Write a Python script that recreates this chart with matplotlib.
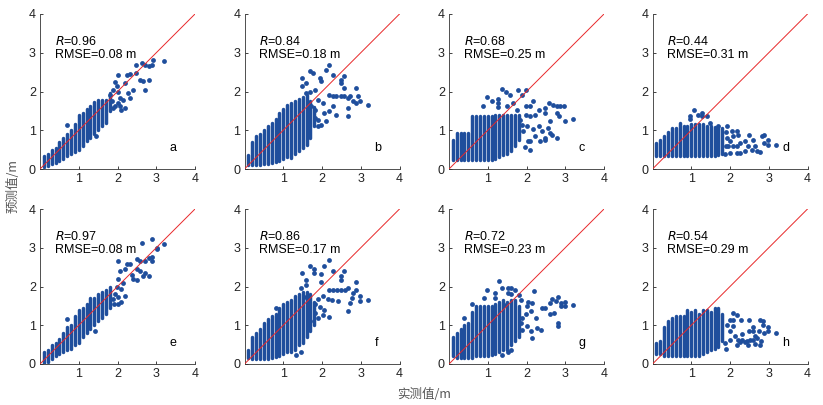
import numpy as np
import matplotlib
matplotlib.use("Agg")
import matplotlib.pyplot as plt

plt.rcParams['font.family'] = ['Liberation Sans', 'Noto Sans CJK SC', 'DejaVu Sans']

# observed values are binned every 0.1 m; dense columns given as (low, high) predicted
col_x = [0.1, 0.2, 0.3, 0.4, 0.5, 0.6, 0.7, 0.8, 0.9, 1.0,
         1.1, 1.2, 1.3, 1.4, 1.5, 1.6, 1.7, 1.8]

a_lo = [0.05, 0.07, 0.12, 0.15, 0.2, 0.25, 0.33, 0.38, 0.45, 0.48, 0.6, 0.72, 0.8, 0.9, 1.0, 1.1, 1.2, 1.5]
a_hi = [0.33, 0.4, 0.5, 0.55, 0.7, 0.8, 0.9, 1.0, 1.15, 1.4, 1.45, 1.55, 1.62, 1.72, 1.78, 1.78, 1.78, 1.95]
a_pts = [(0.7, 1.13), (1.45, 0.86), (1.81, 1.92), (1.85, 1.75), (1.94, 2.24), (1.94, 1.62), (2.02, 2.43),
         (2.02, 2.0), (2.06, 1.62), (2.06, 1.83), (2.15, 1.79), (2.19, 2.22), (2.19, 1.57), (2.24, 2.43),
         (2.28, 1.96), (2.32, 2.46), (2.32, 1.83), (2.41, 2.05), (2.49, 2.48), (2.49, 2.69), (2.58, 2.3),
         (2.62, 2.74), (2.67, 2.26), (2.71, 2.69), (2.71, 2.05), (2.8, 2.65), (2.82, 2.3), (2.88, 2.69),
         (2.92, 2.82), (3.2, 2.78), (1.89, 2.05), (2.0, 1.7), (1.99, 2.13), (1.89, 1.57), (2.1, 1.53)]

b_lo = [0.1, 0.1, 0.1, 0.1, 0.12, 0.12, 0.15, 0.18, 0.2, 0.25, 0.3, 0.28, 0.4, 0.46, 0.55, 0.63, 0.8, 1.1]
b_hi = [0.35, 0.7, 0.85, 0.9, 1.0, 1.1, 1.2, 1.3, 1.45, 1.55, 1.65, 1.7, 1.75, 1.8, 1.85, 1.9, 1.75, 1.6]
b_pts = [(1.48, 2.35), (1.68, 2.52), (1.78, 2.49), (1.94, 2.35), (1.98, 2.26), (2.11, 2.55), (2.17, 2.69),
         (2.28, 2.43), (2.48, 2.3), (2.48, 2.22), (2.58, 2.39), (2.58, 2.09), (2.17, 1.92), (2.28, 1.88),
         (2.37, 1.88), (2.48, 1.88), (2.58, 1.88), (2.67, 1.83), (2.71, 1.88), (2.88, 2.09), (2.92, 1.88),
         (2.8, 1.75), (2.97, 1.75), (3.18, 1.66), (2.88, 1.7), (2.67, 1.57), (2.67, 1.36), (2.37, 1.4),
         (2.28, 1.62), (2.19, 1.49), (2.06, 1.45), (2.11, 1.23), (1.98, 1.14), (1.89, 1.1), (1.89, 1.27),
         (1.81, 1.32), (1.81, 1.53), (1.72, 1.62), (1.89, 1.79), (2.02, 1.7), (1.81, 2.05), (1.68, 2.0),
         (1.59, 1.96), (1.49, 2.15), (1.59, 2.22)]

c_lo = [0.22, 0.22, 0.22, 0.22, 0.22, 0.22, 0.22, 0.22, 0.22, 0.22, 0.22, 0.25, 0.3, 0.35, 0.4, 0.46, 0.6, 0.75]
c_hi = [0.75, 0.92, 0.93, 0.93, 0.93, 1.36, 1.38, 1.38, 1.38, 1.38, 1.38, 1.4, 1.4, 1.4, 1.4, 1.4, 1.4, 1.4]
c_pts = [(1.36, 2.06), (1.47, 2.0), (1.57, 1.92), (1.77, 2.03), (1.99, 2.03), (1.88, 1.92), (0.97, 1.86),
         (1.27, 1.81), (1.27, 1.7), (1.27, 1.6), (1.1, 1.75), (0.89, 1.62), (1.66, 1.7), (1.49, 1.62),
         (1.75, 1.53), (1.99, 1.62), (2.09, 1.62), (2.18, 1.75), (1.99, 1.4), (2.09, 1.36), (2.22, 1.4),
         (2.31, 1.53), (2.48, 1.57), (2.48, 1.45), (2.58, 1.7), (2.69, 1.66), (2.78, 1.62), (2.86, 1.62),
         (2.97, 1.62), (2.85, 1.36), (3.0, 1.23), (3.19, 1.3), (2.78, 1.45), (2.6, 1.23), (2.67, 0.89),
         (2.78, 0.8), (2.6, 0.93), (2.56, 1.06), (2.48, 0.8), (2.35, 0.71), (2.22, 0.84), (2.31, 1.1),
         (2.18, 1.02), (2.09, 0.71), (2.05, 0.71), (2.09, 0.48), (1.96, 0.58), (1.92, 0.97), (1.88, 1.14),
         (1.83, 1.27), (2.0, 1.1), (2.4, 0.97), (2.48, 0.76)]

d_lo = [0.33, 0.33, 0.33, 0.33, 0.33, 0.33, 0.33, 0.33, 0.33, 0.33, 0.33, 0.33, 0.33, 0.33, 0.33, 0.33, 0.35, 0.38]
d_hi = [0.67, 0.75, 0.85, 0.95, 1.05, 1.05, 1.18, 1.1, 1.12, 1.15, 1.15, 1.15, 1.15, 1.12, 1.1, 1.08, 1.05, 1.05]
d_pts = [(1.08, 1.53), (0.97, 1.36), (0.97, 1.28), (1.18, 1.4), (1.29, 1.45), (1.29, 1.36), (1.4, 1.36),
         (1.48, 1.19), (1.7, 1.1), (1.91, 1.1), (2.04, 0.97), (2.17, 0.97), (2.21, 0.89), (2.08, 0.84),
         (2.26, 0.67), (2.39, 0.72), (2.49, 0.87), (2.6, 0.76), (2.47, 0.59), (2.65, 0.59), (2.82, 0.84),
         (2.89, 0.87), (2.89, 0.67), (2.99, 0.76), (2.98, 0.63), (3.19, 0.61), (2.69, 0.46), (2.78, 0.43),
         (2.56, 0.5), (2.39, 0.46), (2.26, 0.41), (2.0, 0.41), (2.17, 0.41), (1.87, 0.4), (2.08, 0.59),
         (1.96, 0.59), (2.0, 0.72), (1.91, 0.8), (2.17, 0.59), (1.9, 0.95), (1.9, 0.6)]

e_lo = [0.03, 0.05, 0.12, 0.2, 0.25, 0.3, 0.35, 0.4, 0.5, 0.55, 0.7, 0.8, 0.9, 1.0, 1.1, 1.2, 1.3, 1.45]
e_hi = [0.3, 0.35, 0.5, 0.55, 0.65, 0.8, 0.95, 1.0, 1.25, 1.4, 1.45, 1.55, 1.7, 1.7, 1.8, 1.85, 1.9, 2.0]
e_pts = [(0.7, 1.15), (1.42, 0.84), (2.02, 2.67), (2.62, 3.12), (2.9, 3.22), (3.2, 3.1), (3.01, 3.0),
         (3.01, 2.96), (2.9, 2.75), (2.9, 2.65), (2.8, 2.73), (2.7, 2.65), (2.58, 2.65), (2.5, 2.7),
         (2.5, 2.46), (2.32, 2.59), (2.24, 2.57), (2.19, 2.46), (2.37, 2.29), (2.41, 2.2), (2.5, 2.16),
         (2.58, 2.39), (2.7, 2.35), (2.8, 2.26), (2.67, 2.26), (2.06, 2.39), (2.02, 2.2), (2.15, 2.09),
         (1.98, 1.98), (2.1, 1.94), (2.19, 1.75), (2.1, 1.61), (2.02, 1.72), (1.89, 1.68), (1.94, 1.81),
         (1.9, 1.55), (2.0, 1.55)]

f_lo = [0.15, 0.13, 0.13, 0.13, 0.13, 0.13, 0.15, 0.18, 0.2, 0.25, 0.3, 0.3, 0.35, 0.5, 0.55, 0.7, 0.85, 1.0]
f_hi = [0.35, 0.7, 0.8, 0.9, 1.05, 1.15, 1.25, 1.3, 1.45, 1.55, 1.6, 1.65, 1.75, 1.8, 1.85, 1.85, 1.8, 1.6]
f_pts = [(1.48, 2.34), (1.68, 2.52), (1.79, 2.46), (1.79, 2.36), (1.98, 2.32), (2.06, 2.52), (2.19, 2.69),
         (2.28, 2.41), (2.49, 2.26), (2.49, 2.18), (2.58, 2.41), (2.88, 2.12), (2.19, 1.92), (2.28, 1.9),
         (2.39, 1.9), (2.49, 1.9), (2.6, 1.9), (2.67, 1.96), (2.8, 1.83), (2.88, 1.9), (2.98, 1.75),
         (2.78, 1.7), (3.18, 1.66), (2.97, 1.63), (2.71, 1.58), (2.68, 1.36), (2.41, 1.63), (2.26, 1.66),
         (2.15, 1.68), (2.02, 1.76), (1.89, 1.69), (1.81, 1.56), (1.94, 1.47), (2.06, 1.39), (2.19, 1.22),
         (2.02, 1.27), (1.89, 1.19), (1.81, 1.32), (1.68, 1.11), (1.63, 0.99), (1.59, 1.74), (1.46, 1.96),
         (1.59, 2.05), (1.98, 2.12), (1.59, 2.18), (0.8, 1.45), (1.33, 0.24), (1.46, 0.32)]

g_lo = [0.2, 0.15, 0.15, 0.15, 0.15, 0.15, 0.2, 0.2, 0.2, 0.2, 0.22, 0.25, 0.3, 0.35, 0.35, 0.5, 0.6, 0.7]
g_hi = [0.7, 0.8, 0.9, 1.0, 1.05, 1.35, 1.5, 1.5, 1.5, 1.5, 1.5, 1.55, 1.6, 1.65, 1.6, 1.65, 1.65, 1.5]
g_pts = [(1.29, 2.13), (0.99, 1.9), (0.9, 1.71), (1.2, 1.83), (1.2, 1.71), (1.38, 1.96), (1.51, 1.96),
         (1.59, 1.96), (1.7, 1.92), (1.51, 1.83), (1.61, 1.81), (1.8, 1.77), (1.85, 1.66), (2.0, 1.49),
         (2.2, 1.88), (2.15, 1.57), (2.11, 1.36), (1.98, 1.28), (1.89, 1.19), (1.85, 1.06), (2.02, 0.97),
         (1.89, 0.88), (2.11, 0.84), (2.15, 0.67), (2.28, 0.93), (2.37, 0.88), (2.24, 1.19), (2.41, 1.45),
         (2.49, 1.45), (2.6, 1.28), (2.6, 1.57), (2.65, 1.69), (2.75, 1.63), (2.8, 1.72), (2.8, 1.06),
         (2.8, 0.97), (2.71, 1.32), (2.88, 1.49), (2.88, 1.57), (2.99, 1.6), (3.0, 1.49), (3.2, 1.51),
         (1.42, 1.53), (2.03, 1.61), (0.39, 1.19), (0.6, 1.55), (1.38, 0.24), (1.51, 0.32), (1.59, 0.37)]

h_lo = [0.25, 0.25, 0.2, 0.2, 0.2, 0.2, 0.2, 0.2, 0.2, 0.2, 0.2, 0.2, 0.25, 0.3, 0.35, 0.4, 0.45, 0.6]
h_hi = [0.55, 0.6, 0.95, 1.1, 1.2, 1.25, 1.25, 1.25, 1.4, 1.35, 1.4, 1.3, 1.4, 1.4, 1.35, 1.45, 1.45, 1.3]
h_pts = [(2.0, 0.84), (2.09, 1.31), (2.17, 1.27), (2.09, 1.14), (2.09, 0.97), (2.0, 1.14), (1.91, 1.01),
         (1.87, 0.54), (1.9, 0.39), (2.0, 0.63), (2.13, 0.71), (2.21, 0.63), (2.17, 0.48), (2.26, 0.56),
         (2.3, 0.77), (2.43, 0.6), (2.3, 0.63), (2.39, 0.56), (2.52, 0.63), (2.47, 0.5), (2.59, 0.63),
         (2.65, 0.71), (2.69, 0.67), (2.65, 0.51), (2.79, 0.6), (2.78, 0.5), (2.6, 0.84), (2.6, 0.95),
         (2.28, 1.14), (2.48, 1.14), (2.48, 0.84), (2.74, 0.84), (2.77, 1.14), (2.86, 1.12), (2.87, 0.81),
         (2.99, 0.95), (2.99, 0.86), (3.19, 0.81), (2.86, 1.01)]

r_vals = ["0.96", "0.84", "0.68", "0.44", "0.97", "0.86", "0.72", "0.54"]
rmse_vals = ["0.08", "0.18", "0.25", "0.31", "0.08", "0.17", "0.23", "0.29"]
panel_tags = ["a", "b", "c", "d", "e", "f", "g", "h"]

lows = [a_lo, b_lo, c_lo, d_lo, e_lo, f_lo, g_lo, h_lo]
highs = [a_hi, b_hi, c_hi, d_hi, e_hi, f_hi, g_hi, h_hi]
extras = [a_pts, b_pts, c_pts, d_pts, e_pts, f_pts, g_pts, h_pts]

W, H = 823, 405
fig = plt.figure(figsize=(W / 100, H / 100), dpi=100)

dot_col = '#1f4e9c'
lefts = [40, 244.5, 449, 652.5]
tops = [14, 209]
side = 155

for i in range(8):
    r, c = divmod(i, 4)
    ax = fig.add_axes([lefts[c] / W, 1 - (tops[r] + side) / H, side / W, side / H])

    # dense columns of points drawn as rounded strokes, sparse points as dots
    ax.vlines(col_x, lows[i], highs[i], colors=dot_col, linewidth=2.5,
              capstyle='round', zorder=2)
    px, py = np.array(extras[i]).T
    ax.scatter(px, py, s=12, color=dot_col, linewidths=0, zorder=2)
    ax.plot([0, 4], [0, 4], color='#e8282a', linewidth=0.7, zorder=3)

    ax.set_xlim(0, 4)
    ax.set_ylim(0, 4)
    ax.set_xticks([1, 2, 3, 4])
    ax.set_yticks([0, 1, 2, 3, 4])
    ax.tick_params(direction='in', length=2, width=0.6, labelsize=9,
                   colors='#222222', pad=3)
    for s in ['top', 'right']:
        ax.spines[s].set_visible(False)
    for s in ['left', 'bottom']:
        ax.spines[s].set_linewidth(0.6)
        ax.spines[s].set_color('#333333')

    ax.text(0.38, 3.3, '$\\it{R}$=' + r_vals[i], fontsize=9, va='center')
    ax.text(0.38, 2.95, 'RMSE=' + rmse_vals[i] + ' m', fontsize=9, va='center')
    ax.text(3.35, 0.55, panel_tags[i], fontsize=9, va='center')

fig.text(13 / W, 1 - 186 / H, '预测值/m', rotation=90, ha='center', va='center',
         fontsize=9, color='#555555', family=['Noto Sans CJK SC', 'DejaVu Sans'])
fig.text(424 / W, 1 - 394 / H, '实测值/m', ha='center', va='center',
         fontsize=9, color='#555555', family=['Noto Sans CJK SC', 'DejaVu Sans'])

fig.savefig('out.png', dpi=100)
